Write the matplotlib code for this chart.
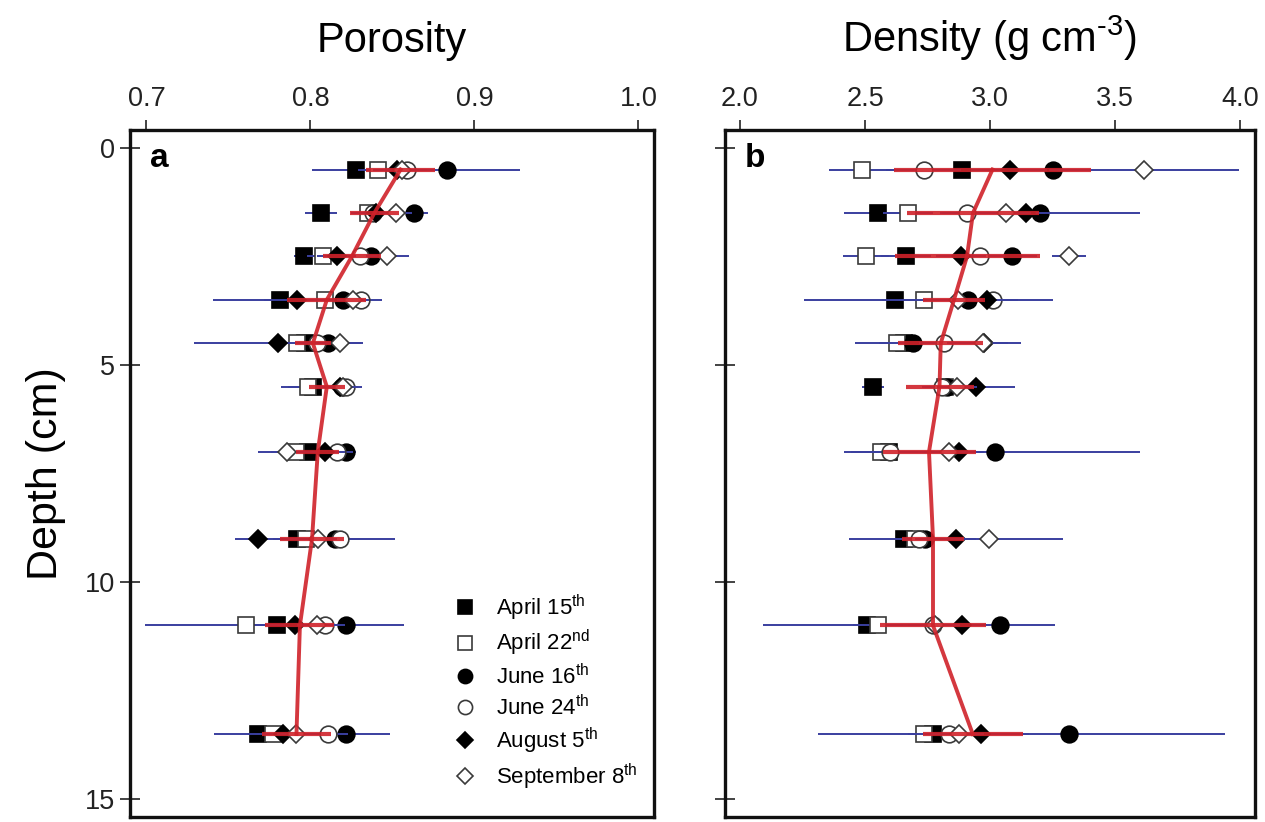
import numpy as np
import matplotlib
matplotlib.use('Agg')
import matplotlib.pyplot as plt
from matplotlib.lines import Line2D

plt.rcParams['font.family'] = ['Liberation Sans', 'DejaVu Sans']
plt.rcParams['mathtext.fontset'] = 'custom'
plt.rcParams['mathtext.rm'] = 'Liberation Sans'

# Sampling depths (cm)
depth = [0.5, 1.5, 2.5, 3.5, 4.5, 5.5, 7, 9, 11, 13.5]

dates = ['April 15$^{\\rm th}$', 'April 22$^{\\rm nd}$', 'June 16$^{\\rm th}$',
         'June 24$^{\\rm th}$', 'August 5$^{\\rm th}$', 'September 8$^{\\rm th}$']

# Porosity per sampling date and its SD
por_apr15 = [0.828, 0.8065, 0.796, 0.7814, 0.7966, 0.8015, 0.7985, 0.792, 0.7796, 0.768]
por_apr22 = [0.841, 0.835, 0.8077, 0.809, 0.792, 0.7985, 0.791, 0.7975, 0.761, 0.777]
por_jun16 = [0.883, 0.863, 0.837, 0.820, 0.8107, 0.819, 0.822, 0.815, 0.822, 0.8216]
por_jun24 = [0.859, 0.838, 0.830, 0.831, 0.804, 0.822, 0.816, 0.818, 0.809, 0.811]
por_aug05 = [0.853, 0.840, 0.816, 0.792, 0.780, 0.818, 0.809, 0.768, 0.7905, 0.783]
por_sep08 = [0.856, 0.852, 0.847, 0.826, 0.818, 0.820, 0.786, 0.8045, 0.804, 0.7915]

por_apr15_sd = [0.027, 0.010, 0.006, 0.041, 0.012, 0.0195, 0.012, 0.015, 0.020, 0.027]
por_apr22_sd = [0.012, 0.010, 0.010, 0.020, 0.015, 0.012, 0.015, 0.012, 0.062, 0.015]
por_jun16_sd = [0.045, 0.009, 0.015, 0.015, 0.012, 0.010, 0.006, 0.0365, 0.035, 0.027]
por_jun24_sd = [0.012, 0.008, 0.012, 0.0126, 0.010, 0.0094, 0.010, 0.012, 0.012, 0.012]
por_aug05_sd = [0.015, 0.010, 0.012, 0.020, 0.051, 0.010, 0.012, 0.014, 0.015, 0.012]
por_sep08_sd = [0.012, 0.010, 0.013, 0.010, 0.014, 0.008, 0.018, 0.012, 0.012, 0.012]

por_mean = [0.855, 0.839, 0.8253, 0.810, 0.8015, 0.810, 0.8045, 0.801, 0.7936, 0.7915]
por_mean_sd = [0.021, 0.015, 0.0177, 0.024, 0.011, 0.011, 0.013, 0.0195, 0.021, 0.021]

# Particle density per sampling date and its SD
den_apr15 = [2.886, 2.552, 2.664, 2.618, 2.656, 2.532, 2.596, 2.656, 2.508, 2.772]
den_apr22 = [2.486, 2.672, 2.504, 2.734, 2.628, 2.820, 2.563, 2.700, 2.552, 2.734]
den_jun16 = [3.252, 3.200, 3.088, 2.910, 2.690, 2.828, 3.020, 2.738, 3.040, 3.316]
den_jun24 = [2.734, 2.908, 2.960, 3.010, 2.814, 2.807, 2.600, 2.715, 2.772, 2.835]
den_aug05 = [3.078, 3.142, 2.884, 2.986, 2.976, 2.944, 2.876, 2.862, 2.886, 2.963]
den_sep08 = [3.616, 3.062, 3.316, 2.870, 2.970, 2.868, 2.836, 2.996, 2.780, 2.876]

den_apr15_sd = [0.15, 0.138, 0.10, 0.362, 0.10, 0.045, 0.10, 0.221, 0.417, 0.10]
den_apr22_sd = [0.13, 0.10, 0.092, 0.10, 0.169, 0.08, 0.149, 0.08, 0.10, 0.423]
den_jun16_sd = [0.15, 0.40, 0.10, 0.342, 0.10, 0.08, 0.578, 0.08, 0.22, 0.624]
den_jun24_sd = [0.15, 0.10, 0.10, 0.10, 0.10, 0.08, 0.10, 0.08, 0.10, 0.10]
den_aug05_sd = [0.15, 0.10, 0.10, 0.10, 0.148, 0.156, 0.10, 0.08, 0.10, 0.10]
den_sep08_sd = [0.38, 0.10, 0.068, 0.10, 0.10, 0.08, 0.10, 0.296, 0.10, 0.10]

den_mean = [3.010, 2.932, 2.908, 2.856, 2.803, 2.798, 2.756, 2.772, 2.772, 2.931]
den_mean_sd = [0.394, 0.264, 0.29, 0.125, 0.17, 0.136, 0.186, 0.124, 0.213, 0.20]

# marker, filled?
styles = [('s', True), ('s', False), ('o', True), ('o', False), ('D', True), ('D', False)]
msizes = {'s': 11.5, 'o': 12, 'D': 9.5}

blue = '#3a3f9f'
red = '#d0222a'


def draw_panel(ax, series, sds, mean, mean_sd):
    for k, (vals, sd) in enumerate(zip(series, sds)):
        mk, filled = styles[k]
        ax.errorbar(vals, depth, xerr=sd, fmt=mk, ms=msizes[mk],
                    mfc='black' if filled else 'white',
                    mec='black' if filled else '#3a3a3a', mew=1.2,
                    ecolor=blue, elinewidth=1.4, capsize=0, zorder=3 + k)
    ax.errorbar(mean, depth, xerr=mean_sd, fmt='-', color=red, lw=2.8,
                elinewidth=3.0, capsize=0, alpha=0.9, zorder=20)


def style_axes(ax, xlim, xticks, title, letter):
    ax.set_ylim(15.41, -0.41)
    ax.set_xlim(*xlim)
    ax.set_yticks([0, 5, 10, 15])
    ax.set_xticks(xticks)
    ax.set_xticklabels(['%.1f' % t for t in xticks])
    ax.xaxis.tick_top()
    ax.tick_params(axis='x', direction='out', length=7, width=1.2,
                   labelsize=19.5, pad=6, colors='#222222')
    ax.tick_params(axis='y', direction='inout', length=14, width=1.2,
                   labelsize=19.5, colors='#222222')
    ax.set_yticklabels([])
    for s in ax.spines.values():
        s.set_linewidth(2.4)
        s.set_color('#111111')
    ax.set_title(title, fontsize=30, pad=56)
    ax.text(0.038, 0.958, letter, transform=ax.transAxes, fontsize=24,
            fontweight='bold', va='center', ha='left')


fig = plt.figure(figsize=(12.65, 8.22), dpi=100)
ax_a = fig.add_axes([130 / 1265, 1 - 817 / 822, 524 / 1265, 687 / 822])
ax_b = fig.add_axes([725 / 1265, 1 - 817 / 822, 530 / 1265, 687 / 822])

draw_panel(ax_a, [por_apr15, por_apr22, por_jun16, por_jun24, por_aug05, por_sep08],
           [por_apr15_sd, por_apr22_sd, por_jun16_sd, por_jun24_sd, por_aug05_sd, por_sep08_sd],
           por_mean, por_mean_sd)
draw_panel(ax_b, [den_apr15, den_apr22, den_jun16, den_jun24, den_aug05, den_sep08],
           [den_apr15_sd, den_apr22_sd, den_jun16_sd, den_jun24_sd, den_aug05_sd, den_sep08_sd],
           den_mean, den_mean_sd)

style_axes(ax_a, (0.69, 1.0095), [0.7, 0.8, 0.9, 1.0], 'Porosity', 'a')
style_axes(ax_b, (1.94, 4.06), [2.0, 2.5, 3.0, 3.5, 4.0],
           'Density (g cm$^{\\text{-3}}$)', 'b')
ax_a.set_yticklabels(['0', '5', '10', '15'])
ax_a.set_ylabel('Depth (cm)', fontsize=31, labelpad=14)

handles = []
for mk, filled in styles:
    handles.append(Line2D([], [], ls='none', marker=mk, ms=msizes[mk] * 0.85,
                          mfc='black' if filled else 'white',
                          mec='black' if filled else '#3a3a3a', mew=1.2))
ax_a.legend(handles, dates, loc='lower left', bbox_to_anchor=(0.579, 0.008),
            frameon=False, fontsize=16, handlelength=1.0, handletextpad=0.9,
            labelspacing=0.25)

fig.savefig('out.png', dpi=100)
